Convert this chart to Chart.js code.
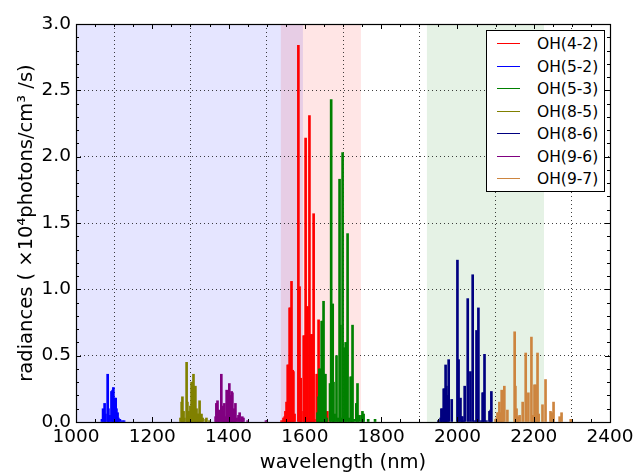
<!DOCTYPE html>
<html>
<head>
<meta charset="utf-8">
<script src="https://cdn.jsdelivr.net/npm/chart.js@4.4.1/dist/chart.umd.min.js"></script>
<style>
  html, body { margin: 0; padding: 0; background: #fff; }
  #wrap { position: relative; width: 638px; height: 472px; overflow: hidden; }
  #legend { position: absolute; left: 486px; top: 30px; width: 117px; height: 160px;
    border: 1px solid #000; background: #fff; font-family: 'DejaVu Sans', sans-serif; font-size: 15.5px; color: #000; }
  .item { position: absolute; left: 0; height: 20px; width: 117px; }
  .item .ln { position: absolute; left: 10px; width: 23px; top: 9px; height: 0; border-top: 1.5px solid; }
  .item .tx { position: absolute; left: 50px; top: 0; line-height: 20px; white-space: nowrap; }
</style>
</head>
<body>
<div id="wrap">
  <canvas id="c" width="638" height="472"></canvas>
  <div id="legend"></div>
</div>
<script>
// ---- data ----
const seriesNames = ['OH(4-2)', 'OH(5-2)', 'OH(5-3)', 'OH(8-5)', 'OH(8-6)', 'OH(9-6)', 'OH(9-7)'];
const seriesColors = ['#ff0000', '#0000ff', '#008000', '#808000', '#000080', '#800080', '#cd853f'];

const wl_4_2 = [1539,1544,1547,1549,1552,1555,1557,1560,1562,1565,1568,1570,1573,1583,1586,1589,1591,1597,1599,1602,1604,1607,1610,1612,1615,1617,1620,1623,1625,1631,1633,1636,1659];
const val_4_2 = [0.01,0.03,0.04,0.08,0.15,0.43,0.43,0.86,0.86,1.06,0.39,0.38,0.06,2.84,1.02,0.33,0.08,0.65,0.65,2.14,0.87,0.87,0.03,2.31,0.02,0.66,0.66,1.57,0.02,0.36,0.36,0.77,0.08];

const wl_5_2 = [1068,1071,1075,1077,1083,1085,1088,1093,1096,1098,1101,1104,1106,1109,1111,1115,1121,1126];
const val_5_2 = [0.02,0.10,0.14,0.06,0.36,0.10,0.05,0.23,0.24,0.26,0.18,0.18,0.10,0.07,0.03,0.02,0.01,0.01];

const wl_5_3 = [1633,1636,1638,1641,1644,1646,1649,1652,1654,1657,1666,1669,1673,1675,1678,1683,1686,1691,1693,1696,1699,1704,1707,1712,1715,1720,1722,1725,1728,1735,1738,1743,1749,1751,1754,1766,1784];
const val_5_3 = [0.07,0.19,0.40,0.40,0.76,0.76,0.91,0.36,0.36,0.03,0.29,2.43,0.89,0.30,0.06,0.50,0.03,1.83,0.73,0.03,2.03,0.56,0.60,1.42,0.03,0.34,0.34,0.73,0.02,0.14,0.29,0.05,0.05,0.08,0.06,0.02,0.02];

const wl_8_5 = [1274,1277,1279,1282,1284,1290,1292,1295,1297,1300,1303,1305,1308,1311,1313,1316,1319,1321,1324,1326,1329,1332,1340,1342,1350];
const val_8_5 = [0.03,0.15,0.19,0.08,0.03,0.45,0.15,0.08,0.04,0.12,0.30,0.30,0.36,0.17,0.27,0.10,0.06,0.06,0.16,0.05,0.06,0.03,0.02,0.03,0.01];

const wl_8_6 = [1950,1956,1958,1961,1964,1966,1969,1971,1974,1977,1985,2000,2003,2008,2011,2013,2016,2019,2027,2034,2040,2045,2050,2053,2055,2061,2066,2068,2071,2076,2084,2087,2089];
const val_8_6 = [0.01,0.03,0.10,0.10,0.25,0.25,0.43,0.27,0.20,0.47,0.17,1.22,0.47,0.18,0.04,0.04,0.01,0.27,0.93,0.38,1.11,0.01,0.69,0.01,0.86,0.01,0.22,0.22,0.51,0.01,0.08,0.09,0.23];

const wl_9_6 = [1366,1368,1371,1374,1376,1381,1384,1387,1389,1392,1395,1397,1400,1402,1405,1408,1410,1413,1415,1418,1421,1426,1429,1434,1436,1439,1450,1498];
const val_9_6 = [0.04,0.14,0.16,0.09,0.04,0.36,0.12,0.08,0.14,0.04,0.24,0.21,0.18,0.29,0.20,0.23,0.22,0.06,0.10,0.14,0.03,0.05,0.07,0.02,0.04,0.03,0.01,0.01];

const wl_9_7 = [2100,2103,2105,2108,2110,2113,2116,2118,2123,2131,2150,2152,2155,2158,2163,2171,2179,2186,2194,2197,2202,2205,2210,2213,2223,2231,2244,2247,2252,2268,2273,2297,2299];
const val_9_7 = [0.02,0.03,0.07,0.07,0.15,0.07,0.24,0.10,0.27,0.09,0.68,0.27,0.10,0.04,0.05,0.15,0.52,0.22,0.64,0.05,0.28,0.28,0.52,0.06,0.13,0.32,0.08,0.07,0.15,0.04,0.07,0.02,0.02];

const bandStarts = [1000, 1537, 1920];
const bandEnds   = [1595, 1747, 2227];
const bandColors = ['rgba(0,0,255,0.10)', 'rgba(255,0,0,0.10)', 'rgba(0,128,0,0.10)'];

const xTicks = [1000, 1200, 1400, 1600, 1800, 2000, 2200, 2400];
const yTicks = [0.0, 0.5, 1.0, 1.5, 2.0, 2.5, 3.0];

// ---- build datasets ----
const allWl = [wl_4_2, wl_5_2, wl_5_3, wl_8_5, wl_8_6, wl_9_6, wl_9_7];
const allVal = [val_4_2, val_5_2, val_5_3, val_8_5, val_8_6, val_9_6, val_9_7];
const datasets = seriesNames.map((name, i) => ({
  label: name,
  data: allWl[i].map((w, j) => ({ x: w, y: allVal[i][j] })),
  backgroundColor: seriesColors[i],
  borderWidth: 0,
  barThickness: 2,
  grouped: false,
  order: seriesNames.length - i
}));

// ---- HTML legend ----
const leg = document.getElementById('legend');
seriesNames.forEach((n, i) => {
  const d = document.createElement('div');
  d.className = 'item';
  d.style.top = (3 + i * 22.5) + 'px';
  d.innerHTML = '<div class="ln" style="border-color:' + seriesColors[i] + '"></div><div class="tx">' + n + '</div>';
  leg.appendChild(d);
});

const FONT = 'DejaVu Sans';

const shadePlugin = {
  id: 'shade',
  beforeDraw(chart) {
    const { ctx, chartArea: a, scales: { x } } = chart;
    ctx.save();
    ctx.fillStyle = '#fff';
    ctx.fillRect(0, 0, chart.width, chart.height);
    bandStarts.forEach((s, i) => {
      const x0 = Math.max(a.left, x.getPixelForValue(s));
      const x1 = Math.min(a.right, x.getPixelForValue(bandEnds[i]));
      ctx.fillStyle = bandColors[i];
      ctx.fillRect(x0, a.top, x1 - x0, a.bottom - a.top);
    });
    ctx.restore();
  }
};

const framePlugin = {
  id: 'frame',
  afterDatasetsDraw(chart) {
    const { ctx, chartArea: a, scales: { x, y } } = chart;
    ctx.save();
    ctx.strokeStyle = '#000';
    ctx.lineWidth = 1;
    ctx.beginPath();
    for (let v = 1000; v <= 2400; v += 50) {
      const px = Math.round(x.getPixelForValue(v)) + 0.5;
      const len = (v % 200 === 0) ? 5 : 3;
      ctx.moveTo(px, a.bottom); ctx.lineTo(px, a.bottom - len);
      ctx.moveTo(px, a.top); ctx.lineTo(px, a.top + len);
    }
    for (let k = 0; k <= 30; k++) {
      const py = Math.round(y.getPixelForValue(k / 10)) + 0.5;
      const len = (k % 5 === 0) ? 5 : 3;
      ctx.moveTo(a.left, py); ctx.lineTo(a.left + len, py);
      ctx.moveTo(a.right, py); ctx.lineTo(a.right - len, py);
    }
    ctx.stroke();
    ctx.lineWidth = 1.2;
    ctx.strokeRect(Math.round(a.left) + 0.5, Math.round(a.top) + 0.5, Math.round(a.right - a.left), Math.round(a.bottom - a.top));
    ctx.restore();
  }
};

new Chart(document.getElementById('c'), {
  type: 'bar',
  data: { datasets },
  options: {
    responsive: false,
    animation: false,
    devicePixelRatio: 1,
    layout: { padding: { top: 24, right: 28, left: 0, bottom: 0 } },
    plugins: { legend: { display: false }, tooltip: { enabled: false } },
    scales: {
      x: {
        type: 'linear', min: 1000, max: 2400, offset: false,
        afterBuildTicks(s) { s.ticks = xTicks.map(v => ({ value: v })); },
        afterFit(s) { s.height = 50; },
        grid: { display: true, drawTicks: false, color: 'rgba(0,0,0,0.75)', lineWidth: 1 },
        border: { display: false, dash: [1, 3] },
        ticks: { padding: 4, color: '#000', font: { family: FONT, size: 18.5 }, maxRotation: 0, autoSkip: false, callback: v => String(v) },
        title: { display: true, text: 'wavelength (nm)', color: '#000', font: { family: FONT, size: 19.5 }, padding: { top: 0, bottom: -3 } }
      },
      y: {
        type: 'linear', min: 0, max: 3,
        afterBuildTicks(s) { s.ticks = yTicks.map(v => ({ value: v })); },
        afterFit(s) { s.width = 76; },
        grid: { display: true, drawTicks: false, color: 'rgba(0,0,0,0.75)', lineWidth: 1 },
        border: { display: false, dash: [1, 3] },
        ticks: { padding: 5, color: '#000', font: { family: FONT, size: 18.5 }, callback: v => Number(v).toFixed(1) },
        title: { display: true, text: 'radiances ( ×10⁴photons/cm³ /s)', color: '#000', font: { family: FONT, size: 19.5 }, padding: { top: 15, bottom: 0 } }
      }
    }
  },
  plugins: [shadePlugin, framePlugin]
});
</script>
</body>
</html>
